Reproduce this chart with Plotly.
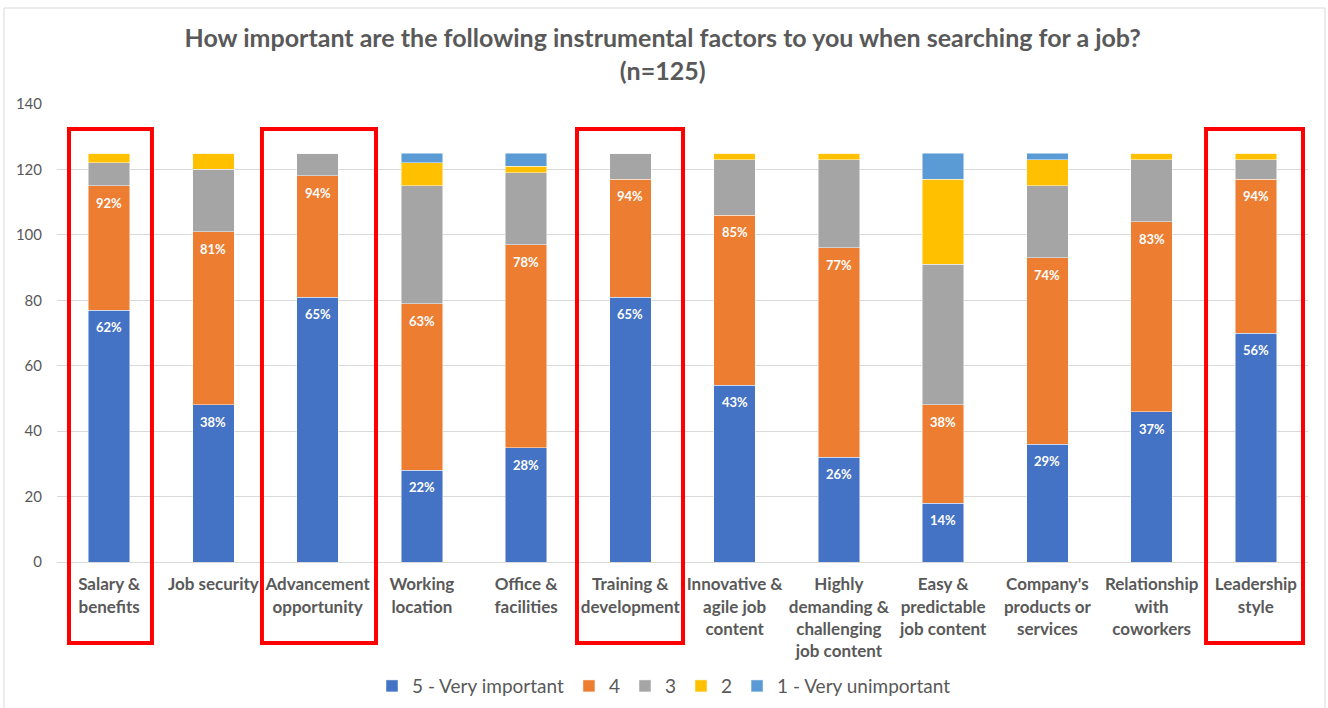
import plotly.graph_objects as go

# Survey responses (n=125), counts per rating for each factor
categories = [
    "Salary &<br>benefits",
    "Job security",
    "Advancement<br>opportunity",
    "Working<br>location",
    "Office &<br>facilities",
    "Training &<br>development",
    "Innovative &<br>agile job<br>content",
    "Highly<br>demanding &<br>challenging<br>job content",
    "Easy &<br>predictable<br>job content",
    "Company's<br>products or<br>services",
    "Relationship<br>with<br>coworkers",
    "Leadership<br>style",
]
n_respondents = 125
very_important = [77, 48, 81, 28, 35, 81, 54, 32, 18, 36, 46, 70]
rating_4 = [38, 53, 37, 51, 62, 36, 52, 64, 30, 57, 58, 47]
rating_3 = [7, 19, 7, 36, 22, 8, 17, 27, 43, 22, 19, 6]
rating_2 = [3, 5, 0, 7, 2, 0, 2, 2, 26, 8, 2, 2]
very_unimportant = [0, 0, 0, 3, 4, 0, 0, 0, 8, 2, 0, 0]

series_names = ["5 - Very important", "4", "3", "2", "1 - Very unimportant"]
series_values = [very_important, rating_4, rating_3, rating_2, very_unimportant]
series_colors = ["#4472C4", "#ED7D31", "#A5A5A5", "#FFC000", "#5B9BD5"]

# Factors highlighted with a red frame: (index, left offset, right offset)
highlighted = [(0, -0.385, 0.411), (2, -0.534, 0.560), (5, -0.512, 0.505), (11, -0.478, 0.452)]

FONT = "Lato"
GREY_TEXT = "#595959"

x_pos = list(range(len(categories)))

fig = go.Figure()
for name, vals, color in zip(series_names, series_values, series_colors):
    fig.add_trace(go.Bar(
        x=x_pos, y=vals, name=name, width=0.4,
        marker=dict(color=color, line=dict(color="rgba(255,255,255,0.6)", width=0.8)),
        hoverinfo="y+name",
    ))

# Percentage labels: share rating 5, and cumulative share of ratings 5+4
annotations = []
for i in x_pos:
    top5 = very_important[i]
    top45 = very_important[i] + rating_4[i]
    for yv in (top5, top45):
        annotations.append(dict(
            x=i, y=yv, xref="x", yref="y", yshift=-17,
            text=f"{round(yv / n_respondents * 100)}%",
            showarrow=False,
            font=dict(family=FONT, size=13, color="white", weight="bold"),
        ))

shapes = [
    # outer chart frame
    dict(type="rect", xref="paper", yref="paper", x0=-0.0424, x1=1.0136, y0=-0.36, y1=1.2096,
         line=dict(color="#D9D9D9", width=1), layer="below"),
]
for idx, lo, hi in highlighted:
    shapes.append(dict(
        type="rect", xref="x", yref="paper",
        x0=idx + lo, x1=idx + hi, y0=-0.1769, y1=0.9454,
        line=dict(color="#FF0000", width=4), fillcolor="rgba(0,0,0,0)", layer="above",
    ))

fig.update_layout(
    width=1328, height=708,
    margin=dict(l=57, r=20, t=104, b=146),
    paper_bgcolor="white", plot_bgcolor="white",
    barmode="stack",
    bargap=0.6,
    title=dict(
        text="How important are the following instrumental factors to you when searching for a job?<br>(n=125)",
        x=0.499, xref="container", xanchor="center",
        y=0.933, yref="container", yanchor="top",
        font=dict(family=FONT, size=25, color=GREY_TEXT, weight="bold"),
    ),
    xaxis=dict(
        tickmode="array", tickvals=x_pos, ticktext=categories,
        range=[-0.5, len(categories) - 0.5],
        showgrid=False, zeroline=False, showline=True, linecolor="#D9D9D9", linewidth=1,
        ticks="", ticklabelstandoff=7, automargin=False,
        tickfont=dict(family=FONT, size=17, color=GREY_TEXT, weight="bold"),
    ),
    yaxis=dict(
        range=[0, 140], tickmode="linear", tick0=0, dtick=20,
        showgrid=True, gridcolor="#D9D9D9", gridwidth=1,
        zeroline=False, showline=False, ticks="", ticklabelstandoff=14, automargin=False,
        tickfont=dict(family=FONT, size=15, color=GREY_TEXT),
    ),
    legend=dict(
        orientation="h", x=0.5, xanchor="center", xref="container",
        y=0.031, yanchor="middle", yref="container",
        font=dict(family=FONT, size=19, color=GREY_TEXT),
        traceorder="normal", itemclick=False,
    ),
    annotations=annotations,
    shapes=shapes,
    showlegend=True,
)

fig.write_html("out.html")
